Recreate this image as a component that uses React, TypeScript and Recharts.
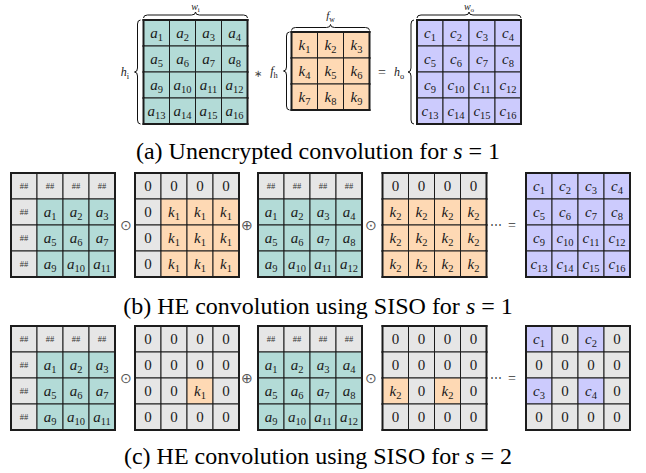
import { ScatterChart, Scatter, XAxis, YAxis } from 'recharts';

const W = 646;
const H = 473;
const CELL = 26;
const SERIF = '"Liberation Serif", "Times New Roman", serif';

// cell contents, row by row ("x_n" = x with subscript n)
const inputA = ['a_1', 'a_2', 'a_3', 'a_4', 'a_5', 'a_6', 'a_7', 'a_8', 'a_9', 'a_10', 'a_11', 'a_12', 'a_13', 'a_14', 'a_15', 'a_16'];
const filterK = ['k_1', 'k_2', 'k_3', 'k_4', 'k_5', 'k_6', 'k_7', 'k_8', 'k_9'];
const outputC = ['c_1', 'c_2', 'c_3', 'c_4', 'c_5', 'c_6', 'c_7', 'c_8', 'c_9', 'c_10', 'c_11', 'c_12', 'c_13', 'c_14', 'c_15', 'c_16'];

const shiftedA = ['##', '##', '##', '##', '##', 'a_1', 'a_2', 'a_3', '##', 'a_5', 'a_6', 'a_7', '##', 'a_9', 'a_10', 'a_11'];
const topPadA = ['##', '##', '##', '##', 'a_1', 'a_2', 'a_3', 'a_4', 'a_5', 'a_6', 'a_7', 'a_8', 'a_9', 'a_10', 'a_11', 'a_12'];
const k1Siso1 = ['0', '0', '0', '0', '0', 'k_1', 'k_1', 'k_1', '0', 'k_1', 'k_1', 'k_1', '0', 'k_1', 'k_1', 'k_1'];
const k2Siso1 = ['0', '0', '0', '0', 'k_2', 'k_2', 'k_2', 'k_2', 'k_2', 'k_2', 'k_2', 'k_2', 'k_2', 'k_2', 'k_2', 'k_2'];
const k1Siso2 = ['0', '0', '0', '0', '0', '0', '0', '0', '0', '0', 'k_1', '0', '0', '0', '0', '0'];
const k2Siso2 = ['0', '0', '0', '0', '0', '0', '0', '0', 'k_2', '0', 'k_2', '0', '0', '0', '0', '0'];
const outSiso2 = ['c_1', '0', 'c_2', '0', '0', '0', '0', '0', 'c_3', '0', 'c_4', '0', '0', '0', '0', '0'];

const captions = [
  ['(a) Unencrypted convolution for ', 's', ' = 1'],
  ['(b) HE convolution using SISO for ', 's', ' = 1'],
  ['(c) HE convolution using SISO for ', 's', ' = 2'],
];

const FILL: Record<string, string> = {
  a: '#b3dbd7',
  k: '#fed9b4',
  c: '#cccbfd',
  pad: '#e6e6e6',
};

// layout
const ROW_A_Y = 20;
const ROW_B_Y = 173;
const ROW_C_Y = 326;
const SISO_X = [11, 135, 258, 382.5, 526];
const CAPTION_BASELINE = [159, 314, 464];

const grids = [
  { labels: inputA, cols: 4, x0: 143.5, y0: ROW_A_Y },
  { labels: filterK, cols: 3, x0: 291.5, y0: 32 },
  { labels: outputC, cols: 4, x0: 417, y0: ROW_A_Y },
  ...[shiftedA, k1Siso1, topPadA, k2Siso1, outputC].map((labels, i) => ({ labels, cols: 4, x0: SISO_X[i], y0: ROW_B_Y })),
  ...[shiftedA, k1Siso2, topPadA, k2Siso2, outSiso2].map((labels, i) => ({ labels, cols: 4, x0: SISO_X[i], y0: ROW_C_Y })),
];

const cells = grids.flatMap(g =>
  g.labels.map((label, i) => {
    const r = Math.floor(i / g.cols);
    const c = i % g.cols;
    return {
      x: g.x0 + (c + 0.5) * CELL,
      y: g.y0 + (r + 0.5) * CELL,
      label, r, c,
      rows: g.labels.length / g.cols,
      cols: g.cols,
    };
  })
);

function fillFor(label: string) {
  if (label === '##' || label === '0') return FILL.pad;
  return FILL[label[0]] ?? FILL.pad;
}

function MathLabel({ x, y, label, size }: { x: number; y: number; label: string; size: number }) {
  if (label === '##') {
    return (
      <text x={x} y={y + 3} textAnchor="middle" fontSize={8.5} fontFamily={SERIF} fill="#333">##</text>
    );
  }
  const [base, sub] = label.split('_');
  const italic = /[a-z]/.test(base);
  return (
    <text x={x} y={y + size * 0.3} textAnchor="middle" fontFamily={SERIF} fill="#1a1a1a">
      <tspan fontSize={size} fontStyle={italic ? 'italic' : 'normal'}>{base}</tspan>
      {sub && <tspan fontSize={size * 0.7} dy={size * 0.25}>{sub}</tspan>}
    </text>
  );
}

const CellShape = (props: any) => {
  const { cx, cy, payload } = props;
  const h = CELL / 2;
  const x = cx - h;
  const y = cy - h;
  const { r, c, rows, cols, label } = payload;
  const edge = { stroke: '#1c1c1c', strokeWidth: 2, strokeLinecap: 'square' as const };
  return (
    <g>
      <rect x={x} y={y} width={CELL} height={CELL} fill={fillFor(label)} stroke="#1c1c1c" strokeWidth={1} />
      {r === 0 && <line x1={x} y1={y} x2={x + CELL} y2={y} {...edge} />}
      {r === rows - 1 && <line x1={x} y1={y + CELL} x2={x + CELL} y2={y + CELL} {...edge} />}
      {c === 0 && <line x1={x} y1={y} x2={x} y2={y + CELL} {...edge} />}
      {c === cols - 1 && <line x1={x + CELL} y1={y} x2={x + CELL} y2={y + CELL} {...edge} />}
      <MathLabel x={cx} y={cy} label={label} size={15} />
    </g>
  );
};

// braces, operators and captions
const gridA = grids[0];
const gridK = grids[1];
const gridC = grids[2];
const span = (g: typeof gridA) => ({
  x1: g.x0, x2: g.x0 + g.cols * CELL,
  y1: g.y0, y2: g.y0 + (g.labels.length / g.cols) * CELL,
});

const annotations: any[] = [];
{
  const a = span(gridA), k = span(gridK), o = span(gridC);
  annotations.push({ kind: 'hbrace', x: (a.x1 + a.x2) / 2, y: 15, x1: a.x1, x2: a.x2 });
  annotations.push({ kind: 'math', x: (a.x1 + a.x2) / 2, y: 6.5, label: 'w_i', size: 10 });
  annotations.push({ kind: 'vbrace', x: a.x1 - 6, y: (a.y1 + a.y2) / 2, y1: a.y1, y2: a.y2 });
  annotations.push({ kind: 'math', x: 125, y: (a.y1 + a.y2) / 2, label: 'h_i', size: 12 });

  annotations.push({ kind: 'text', x: 258, y: (k.y1 + k.y2) / 2 + 2, text: '∗', size: 10, color: '#444' });
  annotations.push({ kind: 'math', x: 274, y: (k.y1 + k.y2) / 2, label: 'f_h', size: 12 });
  annotations.push({ kind: 'vbrace', x: k.x1 - 5, y: (k.y1 + k.y2) / 2, y1: k.y1, y2: k.y2 });
  annotations.push({ kind: 'hbrace', x: (k.x1 + k.x2) / 2, y: 27.5, x1: k.x1, x2: k.x2 });
  annotations.push({ kind: 'math', x: (k.x1 + k.x2) / 2, y: 16, label: 'f_w', size: 11 });

  annotations.push({ kind: 'text', x: 382, y: (o.y1 + o.y2) / 2, text: '=', size: 14, color: '#333' });
  annotations.push({ kind: 'math', x: 399, y: (o.y1 + o.y2) / 2, label: 'h_o', size: 12 });
  annotations.push({ kind: 'vbrace', x: o.x1 - 6, y: (o.y1 + o.y2) / 2, y1: o.y1, y2: o.y2 });
  annotations.push({ kind: 'hbrace', x: (o.x1 + o.x2) / 2, y: 15, x1: o.x1, x2: o.x2 });
  annotations.push({ kind: 'math', x: (o.x1 + o.x2) / 2, y: 6.5, label: 'w_o', size: 10 });

  for (const y0 of [ROW_B_Y, ROW_C_Y]) {
    const ym = y0 + 2 * CELL;
    annotations.push({ kind: 'text', x: 125.5, y: ym, text: '⊙', size: 14, color: '#555' });
    annotations.push({ kind: 'text', x: 247, y: ym, text: '⊕', size: 14, color: '#555' });
    annotations.push({ kind: 'text', x: 371, y: ym, text: '⊙', size: 14, color: '#555' });
    annotations.push({ kind: 'text', x: 496, y: ym, text: '⋯', size: 12, color: '#444' });
    annotations.push({ kind: 'text', x: 512, y: ym, text: '=', size: 14, color: '#333' });
  }

  captions.forEach((parts, i) => annotations.push({ kind: 'caption', x: 318, y: CAPTION_BASELINE[i], parts }));
}

const AnnoShape = (props: any) => {
  const { cx, cy, payload: p } = props;
  if (p.kind === 'hbrace') {
    const w = 3, r = 4, xm = cx;
    const d = `M${p.x1},${cy + w} Q${p.x1},${cy} ${p.x1 + r},${cy} L${xm - r},${cy} Q${xm},${cy} ${xm},${cy - w} Q${xm},${cy} ${xm + r},${cy} L${p.x2 - r},${cy} Q${p.x2},${cy} ${p.x2},${cy + w}`;
    return <path d={d} fill="none" stroke="#111" strokeWidth={1} />;
  }
  if (p.kind === 'vbrace') {
    const w = 3, r = 4, ym = cy;
    const d = `M${cx + w},${p.y1} Q${cx},${p.y1} ${cx},${p.y1 + r} L${cx},${ym - r} Q${cx},${ym} ${cx - w},${ym} Q${cx},${ym} ${cx},${ym + r} L${cx},${p.y2 - r} Q${cx},${p.y2} ${cx + w},${p.y2}`;
    return <path d={d} fill="none" stroke="#111" strokeWidth={1} />;
  }
  if (p.kind === 'math') {
    return <MathLabel x={cx} y={cy} label={p.label} size={p.size} />;
  }
  if (p.kind === 'text') {
    return (
      <text x={cx} y={cy + p.size * 0.35} textAnchor="middle" fontSize={p.size} fontFamily={SERIF} fill={p.color ?? '#1a1a1a'}>
        {p.text}
      </text>
    );
  }
  if (p.kind === 'caption') {
    const [pre, v, post] = p.parts;
    return (
      <text x={cx} y={cy} textAnchor="middle" fontSize={24} fontFamily={SERIF} fill="#000">
        <tspan>{pre}</tspan>
        <tspan fontStyle="italic">{v}</tspan>
        <tspan>{post}</tspan>
      </text>
    );
  }
  return null;
};

export default function App() {
  return (
    <div style={{ position: 'fixed', left: 0, top: 0, width: W, height: H, background: '#fff' }}>
      <ScatterChart width={W} height={H} margin={{ top: 0, right: 0, bottom: 0, left: 0 }}>
        <XAxis type="number" dataKey="x" domain={[0, W]} hide />
        <YAxis type="number" dataKey="y" domain={[0, H]} reversed hide />
        <Scatter data={cells} shape={CellShape} isAnimationActive={false} />
        <Scatter data={annotations} shape={AnnoShape} isAnimationActive={false} />
      </ScatterChart>
    </div>
  );
}
